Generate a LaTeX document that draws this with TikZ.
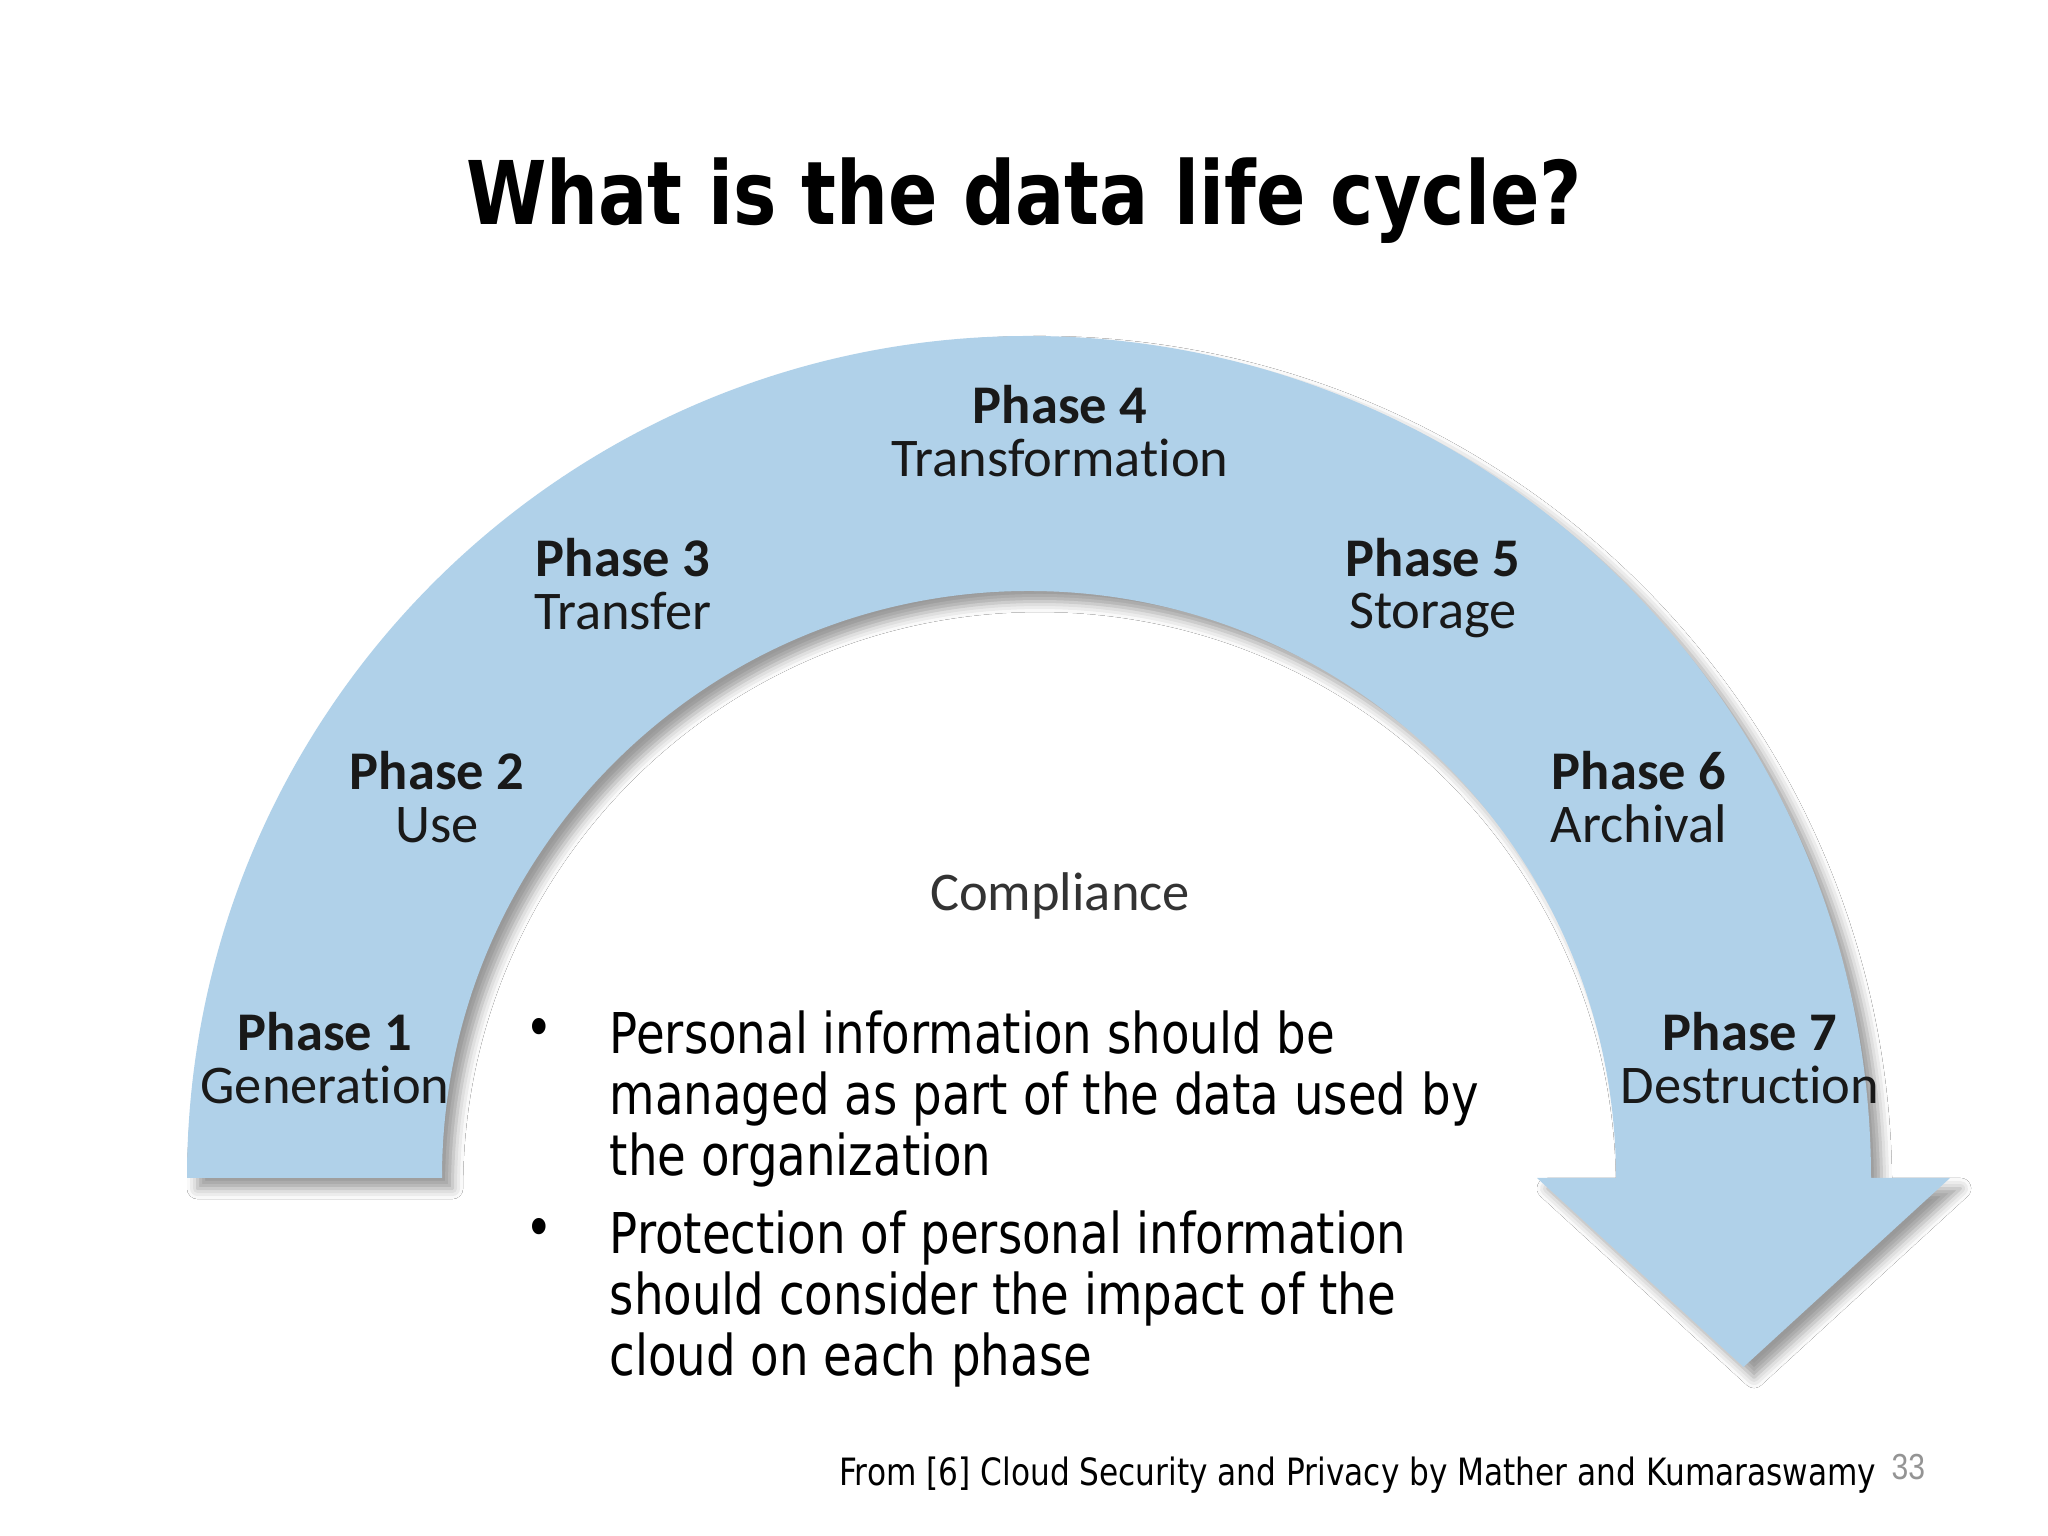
\documentclass[tikz,border=0pt]{standalone}
\usepackage{fontspec}
\setmainfont{DejaVu Sans}[FakeStretch=0.83]
\newfontfamily\phasefont{Carlito}[Ligatures=NoCommon]
\newfontfamily\pagefont{Liberation Sans}[FakeStretch=0.83]
\usepackage{xcolor}
\usepackage{tikz}
\usetikzlibrary{positioning, calc, shadows.blur}
\definecolor{cyclefill}{RGB}{176,209,233}

\begin{document}
\begin{tikzpicture}[
  phase/.style={align=center, inner sep=0pt, text=black!90, font=\phasefont\fontsize{15.5}{15}\selectfont},
  bodytext/.style={align=left, anchor=north west, inner sep=0pt, font=\fontsize{16}{17.3}\selectfont},
  dot/.style={inner sep=0pt, font=\fontsize{16}{17.3}\selectfont}
]
\path[use as bounding box, fill=white] (0,0) rectangle (20.48,15.36);

\node[anchor=base, font=\fontsize{25}{30}\selectfont\bfseries] (title) at (10.24,13.11) {What is the data life cycle?};

% the band with its arrow head
\coordinate (C) at (10.29,3.58);
\fill[cyclefill, blur shadow={shadow xshift=3pt, shadow yshift=-3pt, shadow blur radius=3pt, shadow opacity=40}]
  ($(C)+(-8.42,0)$) arc[start angle=180, end angle=0, radius=8.42]
  -- (19.50,3.58) -- (17.435,1.69) -- (15.37,3.58)
  -- ($(C)+(5.87,0)$) arc[start angle=0, end angle=180, radius=5.87] -- cycle;

\node[phase] (P1) at (3.25,4.78) {\bfseries Phase 1\\Generation};
\node[phase] (P2) at (4.37,7.39) {\bfseries Phase 2\\Use};
\node[phase] (P3) at (6.23,9.52) {\bfseries Phase 3\\Transfer};
\node[phase] (P4) at (10.60,11.05) {\bfseries Phase 4\\Transformation};
\node[phase] (P5) at (14.33,9.48) {\bfseries Phase 5\\Storage};
\node[phase] (P6) at (16.39,7.39) {\bfseries Phase 6\\Archival};
\node[phase] (P7) at (17.50,4.78) {\bfseries Phase 7\\Destruction};
\node[phase, text=black!80] (comp) at (10.60,6.40) {Compliance};

% bullets
\node[bodytext] (b1) at (6.09,5.26) {Personal information should be\\managed as part of the data used by\\the organization};
\node[bodytext, below=0.23cm of b1.south west, anchor=north west] (b2) {Protection of personal information\\should consider the impact of the\\cloud on each phase};
\node[dot] (d1) at ($(b1.north west)+(-0.70,-0.23)$) {•};
\node[dot] (d2) at ($(b2.north west)+(-0.70,-0.23)$) {•};

\node[anchor=base east, inner sep=0pt, font=\fontsize{10.7}{12}\selectfont] (src) at (18.77,0.50) {From [6] Cloud Security and Privacy by Mather and Kumaraswamy};
\node[anchor=base west, inner sep=0pt, text=black!42, font=\pagefont\fontsize{10.3}{12}\selectfont] (num) at (18.91,0.56) {33};
\end{tikzpicture}
\end{document}
